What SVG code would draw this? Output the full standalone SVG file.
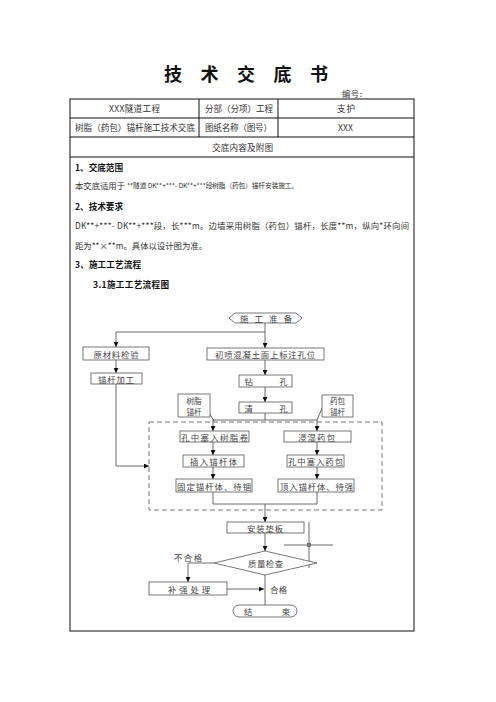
<svg xmlns="http://www.w3.org/2000/svg" width="496" height="702" viewBox="0 0 496 702">
<defs>
<style>
text{font-family:"Noto Sans CJK SC","Noto Sans CJK JP",sans-serif;dominant-baseline:central}
.t{font-size:8.6px;fill:#333}
.h{font-size:8.6px;font-weight:bold;fill:#111}
.b{font-size:8.4px;fill:#333}
.f{font-size:8.4px;fill:#444;text-anchor:middle}
.s{font-size:7.6px;fill:#444;text-anchor:middle}
.grid{stroke:#111;stroke-width:1;fill:none}
.box{fill:#fff;stroke:#555;stroke-width:0.8}
.ln{fill:none;stroke:#444;stroke-width:0.8}
</style>
<marker id="ah" viewBox="0 0 10 10" refX="10" refY="5" markerWidth="5" markerHeight="5" orient="auto" markerUnits="userSpaceOnUse">
<path d="M0,0 L10,5 L0,10 z" fill="#111"/>
</marker>
</defs>
<rect width="496" height="702" fill="#fff"/>
<g id="title">
<text x="246" y="73" style="font-size:18px;font-weight:bold;fill:#111;text-anchor:middle" textLength="164">技 术 交 底 书</text>
<text x="342" y="93" style="font-size:8.4px;fill:#444" textLength="20">编号:</text>
</g>
<g id="table">
<rect class="grid" x="70" y="99" width="344" height="532"/>
<line class="grid" x1="70" y1="118" x2="414" y2="118"/>
<line class="grid" x1="70" y1="137" x2="414" y2="137"/>
<line class="grid" x1="70" y1="157" x2="414" y2="157"/>
<line class="grid" x1="199" y1="99" x2="199" y2="137"/>
<line class="grid" x1="278" y1="99" x2="278" y2="137"/>
<text class="t" x="109" y="108" textLength="51">XXX隧道工程</text>
<text class="t" x="205" y="108" textLength="68">分部（分项）工程</text>
<text class="t" x="337" y="108" textLength="18">支护</text>
<text class="t" x="75" y="127" textLength="120">树脂（药包）锚杆施工技术交底</text>
<text class="t" x="205" y="127" textLength="67">图纸名称（图号）</text>
<text class="t" x="338" y="127" textLength="15">XXX</text>
<text class="t" x="212" y="147" textLength="61">交底内容及附图</text>
</g>
<g id="content">
<text class="h" x="75" y="167" textLength="48">1、交底范围</text>
<text class="b" x="75" y="185" textLength="50">本交底适用于</text>
<text class="b" x="127" y="185" style="font-size:6.7px" textLength="171">**隧道 DK**+***- DK**+***段树脂（药包）锚杆安装施工。</text>
<text class="h" x="75" y="206" textLength="48">2、技术要求</text>
<text class="b" x="75" y="225" textLength="334">DK**+***- DK**+***段，长***m。边墙采用树脂（药包）锚杆，长度**m，纵向*环向间</text>
<text class="b" x="75" y="245" textLength="132">距为**×**m。具体以设计图为准。</text>
<text class="h" x="75" y="264" textLength="66">3、施工工艺流程</text>
<text class="h" x="93" y="284" textLength="76">3.1施工工艺流程图</text>
</g>
<g id="connectors">
<path class="ln" d="M265,323 V348" marker-end="url(#ah)"/>
<path class="ln" d="M265,332 H116 V347" marker-end="url(#ah)"/>
<path class="ln" d="M116,360 V373" marker-end="url(#ah)"/>
<path class="ln" d="M116,384 V466 H149" marker-end="url(#ah)"/>
<path class="ln" d="M265,360 V375" marker-end="url(#ah)"/>
<path class="ln" d="M265,387 V402" marker-end="url(#ah)"/>
<path class="ln" d="M265,413 V420 M213,420 H317"/>
<path class="ln" d="M213,420 V431" marker-end="url(#ah)"/>
<path class="ln" d="M317,420 V431" marker-end="url(#ah)"/>
<path class="ln" d="M208,411 L214,421"/>
<path class="ln" d="M322,408 L317,420"/>
<path class="ln" d="M213,442 V455" marker-end="url(#ah)"/>
<path class="ln" d="M213,467 V479" marker-end="url(#ah)"/>
<path class="ln" d="M317,442 V455" marker-end="url(#ah)"/>
<path class="ln" d="M317,467 V479" marker-end="url(#ah)"/>
<path class="ln" d="M213,492 V504 H317 V492"/>
<path class="ln" d="M265,504 V522" marker-end="url(#ah)"/>
<path class="ln" d="M265,533 V551" marker-end="url(#ah)"/>
<path class="ln" d="M214,563 H188 V582" marker-end="url(#ah)"/>
<path class="ln" d="M227,589 H264" marker-end="url(#ah)"/>
<path class="ln" d="M265,575 V605"/>
<path class="ln" d="M309,522 V568 M284,545 H333"/>
<rect x="307.5" y="543.5" width="3" height="3" fill="none" stroke="#444" stroke-width="0.7"/>
<rect x="149" y="422" width="233" height="88" fill="none" stroke="#555" stroke-width="0.8" stroke-dasharray="5,3"/>
</g>
<g id="n-start">
<polygon class="box" points="229,318 235,313 296,313 302,318 296,323 235,323"/>
<text class="f" x="266" y="318" textLength="52">施 工 准 备</text>
</g>
<g id="n-ycl">
<rect class="box" x="83" y="347" width="66" height="13"/>
<text class="f" x="116" y="353.5" textLength="45">原材料检验</text>
</g>
<g id="n-mgjg">
<rect class="box" x="91" y="373" width="51" height="11"/>
<text class="f" x="116" y="378.5" textLength="36">锚杆加工</text>
</g>
<g id="n-cp">
<rect class="box" x="207" y="348" width="117" height="12"/>
<text class="f" x="265" y="354" textLength="100">初喷混凝土面上标注孔位</text>
</g>
<g id="n-zk">
<rect class="box" x="239" y="375" width="53" height="12"/>
<text class="f" x="266" y="381" textLength="43">钻      孔</text>
</g>
<g id="n-qk">
<rect class="box" x="239" y="402" width="53" height="11"/>
<text class="f" x="266" y="407.5" textLength="43">清      孔</text>
</g>
<g id="n-szmg">
<rect class="box" x="178" y="394" width="32" height="23"/>
<text class="s" x="194" y="400">树脂</text>
<text class="s" x="194" y="411">锚杆</text>
</g>
<g id="n-ybmg">
<rect class="box" x="322" y="395" width="31" height="22"/>
<text class="s" x="337.5" y="400.5">药包</text>
<text class="s" x="337.5" y="411.5">锚杆</text>
</g>
<g id="n-l1">
<rect class="box" x="180" y="431" width="69" height="11"/>
<text class="f" x="214.5" y="436.5" textLength="67">孔中塞入树脂卷</text>
</g>
<g id="n-l2">
<rect class="box" x="183" y="455" width="61" height="12"/>
<text class="f" x="213.5" y="461" textLength="47">插入锚杆体</text>
</g>
<g id="n-l3">
<rect class="box" x="176" y="479" width="76" height="13"/>
<text class="f" x="214" y="485.5" textLength="74">固定锚杆体、待锢</text>
</g>
<g id="n-r1">
<rect class="box" x="284" y="431" width="67" height="11"/>
<text class="f" x="316.5" y="436.5" textLength="37">浸湿药包</text>
</g>
<g id="n-r2">
<rect class="box" x="287" y="455" width="57" height="12"/>
<text class="f" x="315.5" y="461" textLength="55">孔中塞入药包</text>
</g>
<g id="n-r3">
<rect class="box" x="278" y="479" width="76" height="13"/>
<text class="f" x="316.5" y="485.5" textLength="73">顶入锚杆体、待强</text>
</g>
<g id="n-azdb">
<rect class="box" x="227" y="522" width="77" height="11"/>
<text class="f" x="265" y="527.5" textLength="36">安装垫板</text>
</g>
<g id="n-zljc">
<polygon class="box" points="265,551 317,563 265,575 214,563"/>
<text class="f" x="265.5" y="563" textLength="35">质量检查</text>
</g>
<g id="n-bqcl">
<rect class="box" x="149" y="582" width="78" height="13"/>
<text class="f" x="189" y="588.5" textLength="42">补强处理</text>
</g>
<g id="n-end">
<rect class="box" x="233" y="605" width="64" height="12" rx="6"/>
<text class="f" x="267" y="611" textLength="46">结        束</text>
</g>
<g id="labels">
<text class="f" x="188" y="557" textLength="28">不合格</text>
<text class="f" x="278.5" y="589" textLength="17">合格</text>
</g>
</svg>
